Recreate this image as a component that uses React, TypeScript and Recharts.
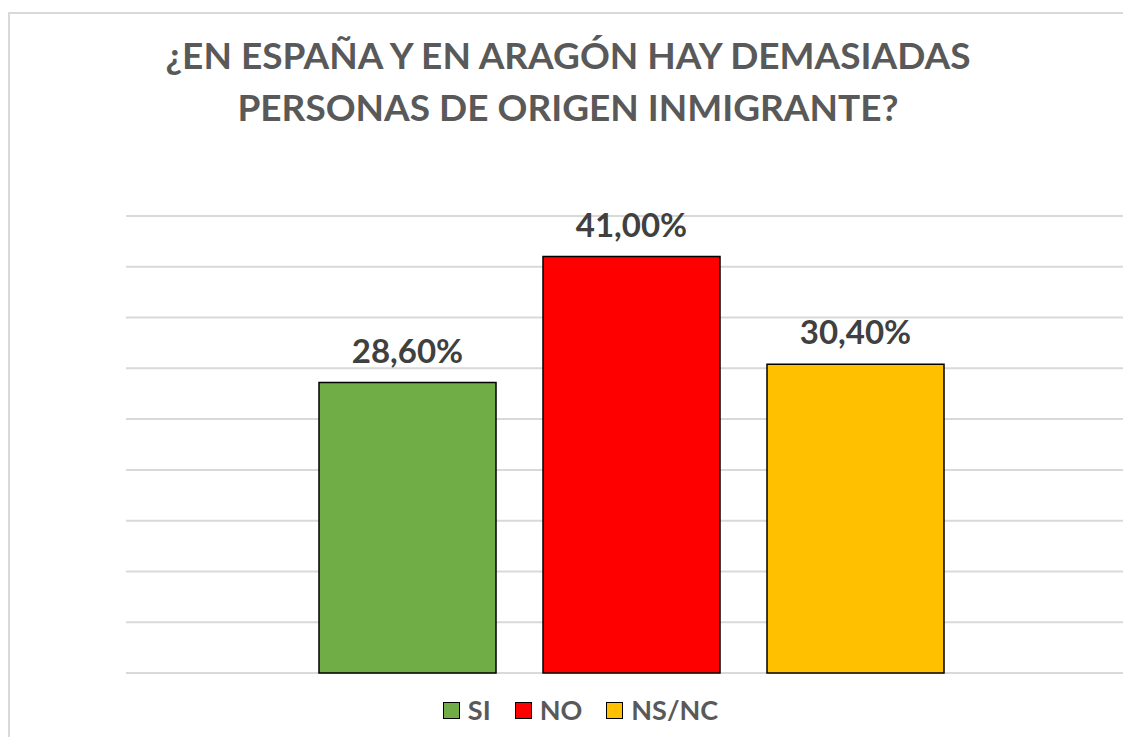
import React from 'react';
import { BarChart, Bar, XAxis, YAxis, CartesianGrid, LabelList, Legend } from 'recharts';

const seriesNames = ['SI', 'NO', 'NS/NC'];
const seriesValues = [28.6, 41.0, 30.4];
const seriesColors = ['#70AD47', '#FF0000', '#FFC000'];
const yTicks = [0, 5, 10, 15, 20, 25, 30, 35, 40, 45];
const titleLines = ['¿EN ESPAÑA Y EN ARAGÓN HAY DEMASIADAS', 'PERSONAS DE ORIGEN INMIGRANTE?'];

const row: Record<string, any> = { name: '' };
seriesNames.forEach((n, i) => { row[n] = seriesValues[i]; });
const data = [row];

if (typeof document !== 'undefined') {
  document.documentElement.style.overflow = 'hidden';
  document.body.style.overflow = 'hidden';
}

const FONT = 'Lato, "Open Sans", sans-serif';

const fmt = (v: any) => Number(v).toFixed(2).replace('.', ',') + '%';

const LegendContent = () => (
  <div style={{ display: 'flex', justifyContent: 'center', alignItems: 'center', fontFamily: FONT, fontWeight: 700, fontSize: 27, lineHeight: '28px', color: '#595959', paddingLeft: 22 }}>
    {seriesNames.map((n, i) => (
      <div key={n} style={{ display: 'flex', alignItems: 'center', marginRight: i < 2 ? 24 : 0 }}>
        <div style={{ width: 15, height: 15, background: seriesColors[i], border: '1.5px solid #000', marginRight: 8 }} />
        <span>{n}</span>
      </div>
    ))}
  </div>
);

export default function App() {
  return (
    <div style={{ position: 'relative', width: 1123, height: 729, overflow: 'hidden', background: '#fff' }}>
      <div style={{ position: 'absolute', left: 0, top: 4, width: 1300, height: 900, borderLeft: '2px solid #d9d9d9', borderTop: '2px solid #d9d9d9', boxSizing: 'border-box' }} />
      {titleLines.map((t, i) => (
        <div key={i} style={{ position: 'absolute', left: 0, width: 1120, top: 24 + i * 52, textAlign: 'center', fontFamily: FONT, fontWeight: 700, fontSize: 37, color: '#595959', whiteSpace: 'nowrap' }}>{t}</div>
      ))}
      <div style={{ position: 'absolute', left: 0, top: 0 }}>
        <BarChart width={1140} height={729} data={data} margin={{ top: 208, right: 12, bottom: 36, left: 118 }} barSize={177} barGap={47}>
          <CartesianGrid vertical={false} stroke="#d9d9d9" strokeWidth={2} />
          <XAxis dataKey="name" hide />
          <YAxis hide domain={[0, 45]} ticks={yTicks} width={0} />
          <Legend content={<LegendContent />} wrapperStyle={{ position: 'absolute', top: 688, left: 0, width: 1123, height: 28 }} />
          {seriesNames.map((n, i) => (
            <Bar key={n} dataKey={n} fill={seriesColors[i]} stroke="#000" strokeWidth={1.5} isAnimationActive={false}>
              <LabelList dataKey={n} position="top" offset={20} formatter={fmt} style={{ fontFamily: FONT, fontWeight: 700, fontSize: 33, fill: '#404040' }} />
            </Bar>
          ))}
        </BarChart>
      </div>
    </div>
  );
}
